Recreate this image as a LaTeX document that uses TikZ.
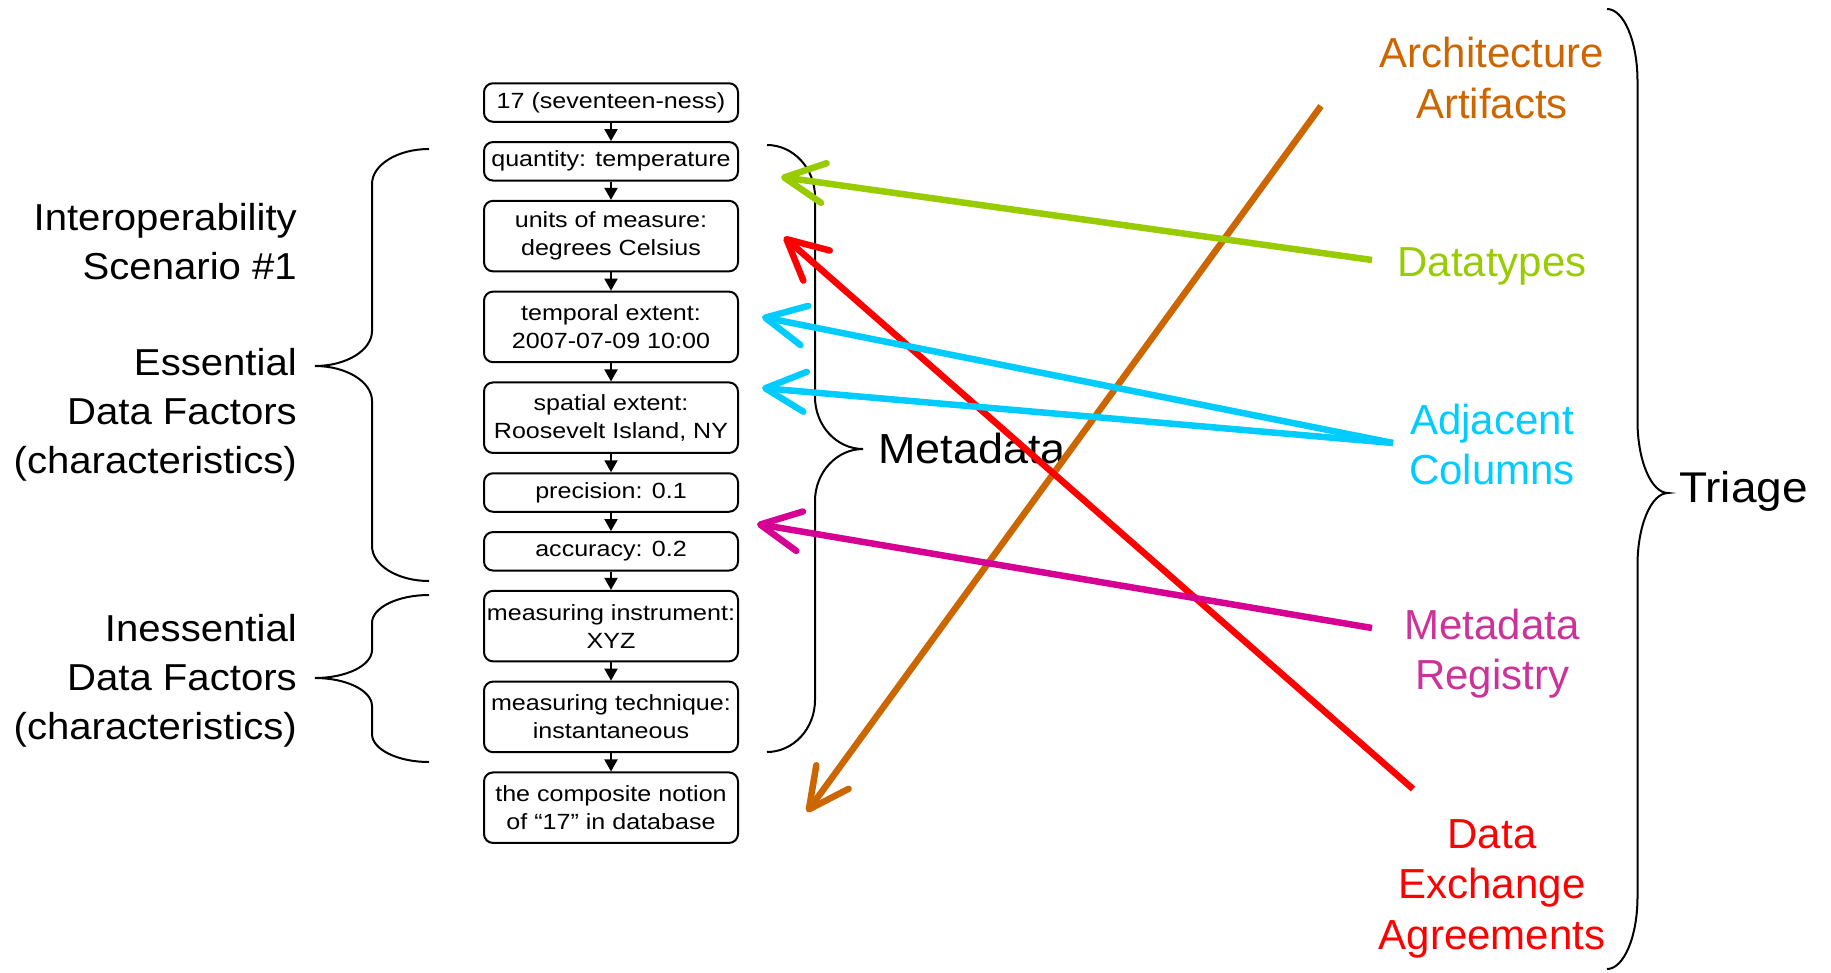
\documentclass[tikz,border=0pt]{standalone}
\usepackage{fontspec}
\setmainfont{Liberation Sans}
\newfontfamily\boxfont{Liberation Sans}[FakeStretch=1.14]
\newfontfamily\sidefont{Liberation Sans}[FakeStretch=1.07]
\usetikzlibrary{positioning,arrows.meta}

\definecolor{archorange}{RGB}{204,102,0}
\definecolor{typegreen}{RGB}{153,204,0}
\definecolor{adjcyan}{RGB}{0,204,255}
\definecolor{regline}{RGB}{214,0,147}
\definecolor{regtext}{RGB}{204,51,153}
\definecolor{deared}{RGB}{255,0,0}

% curly brace: tip x, top y, bottom y, point x, middle y, arc height
\newcommand{\drawbrace}[6]{%
  \pgfmathsetmacro\brspine{(#1+#4)/2}%
  \pgfmathsetmacro\brdir{\brspine-#1}%
  \draw[bracket] (#1,#2) .. controls ({#1+0.55*\brdir},#2) and (\brspine,{#2+0.45*#6}) .. (\brspine,{#2+#6})
    -- (\brspine,{#5-#6}) .. controls (\brspine,{#5-0.45*#6}) and ({\brspine+0.45*\brdir},#5) .. (#4,#5)
    .. controls ({\brspine+0.45*\brdir},#5) and (\brspine,{#5+0.45*#6}) .. (\brspine,{#5+#6})
    -- (\brspine,{#3-#6}) .. controls (\brspine,{#3-0.45*#6}) and ({#1+0.55*\brdir},#3) .. (#1,#3);}

\begin{document}
\begin{tikzpicture}[x=1pt,y=-1pt,
  node distance=18.3pt,
  factbox/.style={draw, line width=2pt, rounded corners=9pt, minimum width=254pt,
    minimum height=38.5pt, inner xsep=2pt, inner ysep=0pt, align=center,
    font=\boxfont\fontsize{22}{28}\selectfont},
  twoline/.style={minimum height=70.5pt},
  flow/.style={line width=2pt, -{Triangle[width=13pt,length=12pt]}},
  bracket/.style={line width=2pt},
  pointer/.style={line width=6.5pt, -{Straight Barb[length=40pt,width=40pt,round]}},
  sidelabel/.style={align=right, anchor=base east, inner sep=0pt,
    font=\sidefont\fontsize{37.5}{49}\selectfont},
  triagelabel/.style={align=center, anchor=base, inner sep=0pt,
    font=\fontsize{42}{50.5}\selectfont},
]
\useasboundingbox (0,0) rectangle (1831,972);

% --------- chain of data factors ----------
\node[factbox] (b1) at (611,102.5) {17 (seventeen-ness)};
\node[factbox, below=of b1] (b2) {quantity: temperature};
\node[factbox, twoline, below=of b2] (b3) {units of measure:\\degrees Celsius};
\node[factbox, twoline, below=of b3] (b4) {temporal extent:\\2007-07-09 10:00};
\node[factbox, twoline, below=of b4] (b5) {spatial extent:\\Roosevelt Island, NY};
\node[factbox, below=of b5] (b6) {precision: 0.1};
\node[factbox, below=of b6] (b7) {accuracy: 0.2};
\node[factbox, twoline, below=of b7] (b8) {measuring instrument:\\XYZ};
\node[factbox, twoline, below=of b8] (b9) {measuring technique:\\instantaneous};
\node[factbox, twoline, below=of b9] (b10) {the composite notion\\of “17” in database};

\foreach \a/\b in {b1/b2,b2/b3,b3/b4,b4/b5,b5/b6,b6/b7,b7/b8,b8/b9,b9/b10}
  \draw[flow] (\a) -- (\b);

% --------- braces and their labels ----------
\drawbrace{429}{149}{581}{315}{366}{35}
\drawbrace{429}{595}{762}{315}{678}{28}
\drawbrace{767}{145}{752}{863}{449}{52}
\drawbrace{1607}{9}{969}{1668}{493}{72}

% (base = last line)
\node[sidelabel] (scen) at (297,279.7) {Interoperability\\Scenario \#1};
\node[sidelabel] (ess) at (297,473) {Essential\\Data Factors\\(characteristics)};
\node[sidelabel] (iness) at (297,739) {Inessential\\Data Factors\\(characteristics)};
\node[anchor=base west, inner sep=0pt, font=\sidefont\fontsize{42}{50}\selectfont] (meta) at (878,463) {Metadata};
\node[anchor=base west, inner sep=0pt, font=\sidefont\fontsize{43}{50}\selectfont] (triage) at (1679,502) {Triage};

% --------- triage categories ----------
\node[triagelabel, text=archorange] (arch) at (1492,118) {Architecture\\Artifacts};
\node[triagelabel, text=typegreen] (dtype) at (1492,276) {Datatypes};
\node[triagelabel, text=adjcyan] (adj) at (1492,484.5) {Adjacent\\Columns};
\node[triagelabel, text=regtext] (reg) at (1492,689.5) {Metadata\\Registry};
\node[triagelabel, text=deared] (dea) at (1492,949) {Data\\Exchange\\Agreements};

% arrow tips beside the chain
\coordinate (archTip) at (807,812);
\coordinate (typeTip) at (781,177);
\coordinate (deaTip) at (784,237);
\coordinate (adjTipA) at (762,317);
\coordinate (adjTipB) at (762,388);
\coordinate (regTip) at (757,524);

\draw[pointer, archorange] ([shift={(-171,-12)}]arch.base) -- (archTip);
\draw[pointer, deared] ([shift={(-79,-160)}]dea.base) -- (deaTip);
\draw[pointer, typegreen] ([shift={(-120,-16)}]dtype.base) -- (typeTip);
\draw[pointer, adjcyan] ([shift={(-99,-41.5)}]adj.base) -- (adjTipA);
\draw[pointer, adjcyan] ([shift={(-99,-41.5)}]adj.base) -- (adjTipB);
\draw[pointer, regline] ([shift={(-120,-61.5)}]reg.base) -- (regTip);

\end{tikzpicture}
\end{document}
